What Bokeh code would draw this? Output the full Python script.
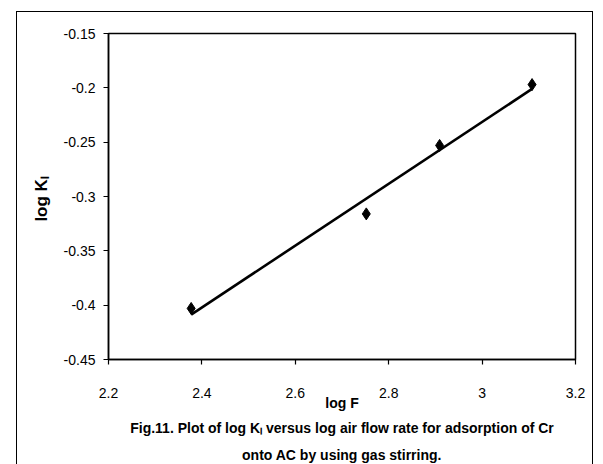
import numpy as np
from bokeh.plotting import figure
from bokeh.models import Range1d, FixedTicker, Title
from bokeh.embed import file_html
from bokeh.resources import INLINE

# data
log_F = [2.377, 2.752, 2.909, 3.107]
log_K = [-0.403, -0.316, -0.253, -0.197]
x_ticks = [2.2, 2.4, 2.6, 2.8, 3.0, 3.2]
x_tick_labels = ["2.2", "2.4", "2.6", "2.8", "3", "3.2"]
y_ticks = [-0.45, -0.4, -0.35, -0.3, -0.25, -0.2, -0.15]
y_tick_labels = ["-0.45", "-0.4", "-0.35", "-0.3", "-0.25", "-0.2", "-0.15"]
caption_lines = ["Fig.11. Plot of log K\u2097 versus log air flow rate for adsorption of Cr",
                 "onto AC by using gas stirring."]

FONT = "Liberation Sans"

p = figure(output_backend="svg", toolbar_location=None,
           frame_width=467, frame_height=326,
           min_border_left=91, min_border_right=17, min_border_top=21, min_border_bottom=100,
           x_range=Range1d(2.2, 3.2), y_range=Range1d(-0.45, -0.15),
           background_fill_color="white", border_fill_color="white",
           margin=(11, 0, 0, 16),
           styles={"border-top": "1.5px solid black", "border-left": "1.5px solid black",
                   "border-right": "1.5px solid black"})
p.outline_line_color = "black"
p.outline_line_width = 1.5
p.xgrid.visible = False
p.ygrid.visible = False

for ax in (p.xaxis[0], p.yaxis[0]):
    ax.axis_line_color = "black"
    ax.axis_line_width = 1.5
    ax.major_tick_line_color = "black"
    ax.major_tick_line_width = 1.2
    ax.major_tick_in = 0
    ax.major_tick_out = 5
    ax.minor_tick_line_color = None
    ax.major_label_text_font = FONT
    ax.major_label_text_font_size = "14px"
    ax.major_label_text_color = "black"

p.xaxis.ticker = FixedTicker(ticks=x_ticks)
p.xaxis.major_label_overrides = {t: l for t, l in zip(x_ticks, x_tick_labels)}
p.xaxis.major_label_standoff = 23
p.xaxis.axis_label = "log F"
p.xaxis.axis_label_text_font = FONT
p.xaxis.axis_label_text_font_style = "bold"
p.xaxis.axis_label_text_font_size = "14px"
p.xaxis.axis_label_text_color = "black"
p.xaxis.axis_label_standoff = -6

p.yaxis.ticker = FixedTicker(ticks=y_ticks)
p.yaxis.major_label_overrides = {t: l for t, l in zip(y_ticks, y_tick_labels)}
p.yaxis.major_label_standoff = 8
p.yaxis.axis_label = "log  K\u2097"
p.yaxis.axis_label_text_font = FONT
p.yaxis.axis_label_text_font_style = "bold"
p.yaxis.axis_label_text_font_size = "17px"
p.yaxis.axis_label_text_color = "black"
p.yaxis.axis_label_standoff = 10

# linear trendline from the data
slope, intercept = np.polyfit(log_F, log_K, 1)
xs = [min(log_F), max(log_F)]
ys = [slope * x + intercept for x in xs]
p.line(xs, ys, line_color="black", line_width=2.6)

p.scatter(log_F, log_K, marker="diamond", size=12, fill_color="black", line_color="black")

for i, line in enumerate(caption_lines):
    p.add_layout(Title(text=line, align="center", text_font=FONT, text_font_style="bold",
                       text_font_size="14px", text_color="black",
                       standoff=9 if i == 0 else 8), "below")

open("out.html", "w").write(file_html(p, INLINE))
